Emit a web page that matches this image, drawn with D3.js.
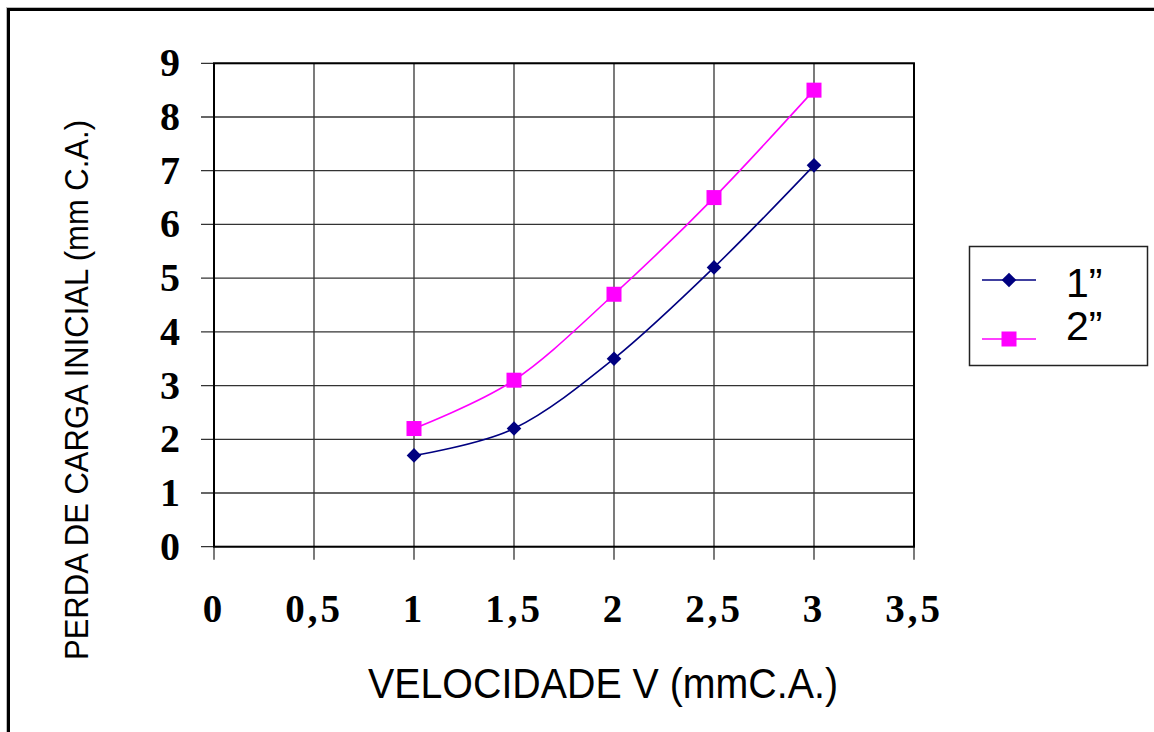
<!DOCTYPE html>
<html><head><meta charset="utf-8">
<script src="https://cdn.jsdelivr.net/npm/d3@7"></script>
<style>body{margin:0;background:#fff}svg{display:block}</style>
</head><body>
<svg id="c" width="1154" height="732"></svg>
<script>
const velocities = [1, 1.5, 2, 2.5, 3];
const serie1 = [1.7, 2.2, 3.5, 5.2, 7.1];
const serie2 = [2.2, 3.1, 4.7, 6.5, 8.5];
const seriesNames = ["1\u201d", "2\u201d"];
const xTicks = [0, 0.5, 1, 1.5, 2, 2.5, 3, 3.5];
const yTicks = [0, 1, 2, 3, 4, 5, 6, 7, 8, 9];
const xTitle = "VELOCIDADE V (mmC.A.)";
const yTitle = "PERDA DE CARGA INICIAL (mm C.A.)";

const svg = d3.select("#c");
const x = d3.scaleLinear().domain([0, 3.5]).range([214, 914]);
const y = d3.scaleLinear().domain([0, 9]).range([546.7, 63.3]);

// outer frame
svg.append("rect").attr("x", 6.5).attr("y", 7.5).attr("width", 1200).attr("height", 800)
  .attr("fill", "none").attr("stroke", "#bbb").attr("stroke-width", 1);
svg.append("rect").attr("x", 8.5).attr("y", 9.5).attr("width", 1200).attr("height", 800)
  .attr("fill", "none").attr("stroke", "#000").attr("stroke-width", 3);

const g = svg.append("g");
// grid
g.selectAll(".gx").data(xTicks).join("line")
  .attr("x1", d => x(d)).attr("x2", d => x(d))
  .attr("y1", y(9)).attr("y2", y(0) + 13)
  .attr("stroke", "#333").attr("stroke-width", 1.3);
g.selectAll(".gy").data(yTicks).join("line")
  .attr("x1", x(0) - 13).attr("x2", x(3.5))
  .attr("y1", d => y(d)).attr("y2", d => y(d))
  .attr("stroke", "#333").attr("stroke-width", 1.3);
// plot frame
g.append("rect").attr("x", x(0)).attr("y", y(9)).attr("width", x(3.5) - x(0)).attr("height", y(0) - y(9))
  .attr("fill", "none").attr("stroke", "#000").attr("stroke-width", 2);

// tick labels
g.selectAll(".xl").data(xTicks).join("text")
  .attr("x", d => x(d)).attr("y", 622)
  .attr("text-anchor", "middle")
  .attr("font-family", "Liberation Serif").attr("font-weight", "bold").attr("font-size", 39)
  .attr("letter-spacing", 3)
  .text(d => String(d).replace(".", ","));
g.selectAll(".yl").data(yTicks).join("text")
  .attr("x", 180).attr("y", d => y(d) + 13)
  .attr("text-anchor", "end")
  .attr("font-family", "Liberation Serif").attr("font-weight", "bold").attr("font-size", 40)
  .text(d => d);

// titles
svg.append("text").attr("x", 368).attr("y", 698)
  .attr("font-family", "Liberation Sans").attr("font-size", 42)
  .attr("textLength", 470).attr("lengthAdjust", "spacingAndGlyphs")
  .text(xTitle);
svg.append("text").attr("transform", "translate(88,660) rotate(-90)")
  .attr("font-family", "Liberation Sans").attr("font-size", 33)
  .attr("textLength", 540).attr("lengthAdjust", "spacingAndGlyphs")
  .text(yTitle);

// lines
const line = d3.line().x((d, i) => x(velocities[i])).y(d => y(d)).curve(d3.curveCatmullRom.alpha(0));
const series = [
  { name: seriesNames[0], values: serie1, color: "#000080", shape: "diamond" },
  { name: seriesNames[1], values: serie2, color: "#FF00FF", shape: "square" }
];
series.forEach(s => {
  g.append("path").attr("d", line(s.values)).attr("fill", "none")
    .attr("stroke", s.color).attr("stroke-width", 1.6);
});
const diamond = (cx, cy, r) => `M${cx},${cy - r}L${cx + r},${cy}L${cx},${cy + r}L${cx - r},${cy}Z`;
const marker = (sel, s, cx, cy) => {
  if (s.shape === "diamond") {
    sel.append("path").attr("d", diamond(cx, cy, 7.3)).attr("fill", s.color);
  } else {
    sel.append("rect").attr("x", cx - 7.5).attr("y", cy - 7.5).attr("width", 15).attr("height", 15).attr("fill", s.color);
  }
};
series.forEach(s => {
  s.values.forEach((v, i) => marker(g, s, x(velocities[i]), y(v)));
});

// legend
const lg = svg.append("g");
lg.append("rect").attr("x", 969.5).attr("y", 246.5).attr("width", 178).attr("height", 119)
  .attr("fill", "#fff").attr("stroke", "#222").attr("stroke-width", 1.5);
const legY = [280, 339];
const textY = [297, 340];
series.forEach((s, i) => {
  lg.append("line").attr("x1", 982).attr("x2", 1036).attr("y1", legY[i]).attr("y2", legY[i])
    .attr("stroke", s.color).attr("stroke-width", 1.6);
  marker(lg, s, 1009, legY[i]);
  lg.append("text").attr("x", 1066).attr("y", textY[i])
    .attr("font-family", "Liberation Sans").attr("font-size", 41)
    .text(s.name);
});
</script>
</body></html>
